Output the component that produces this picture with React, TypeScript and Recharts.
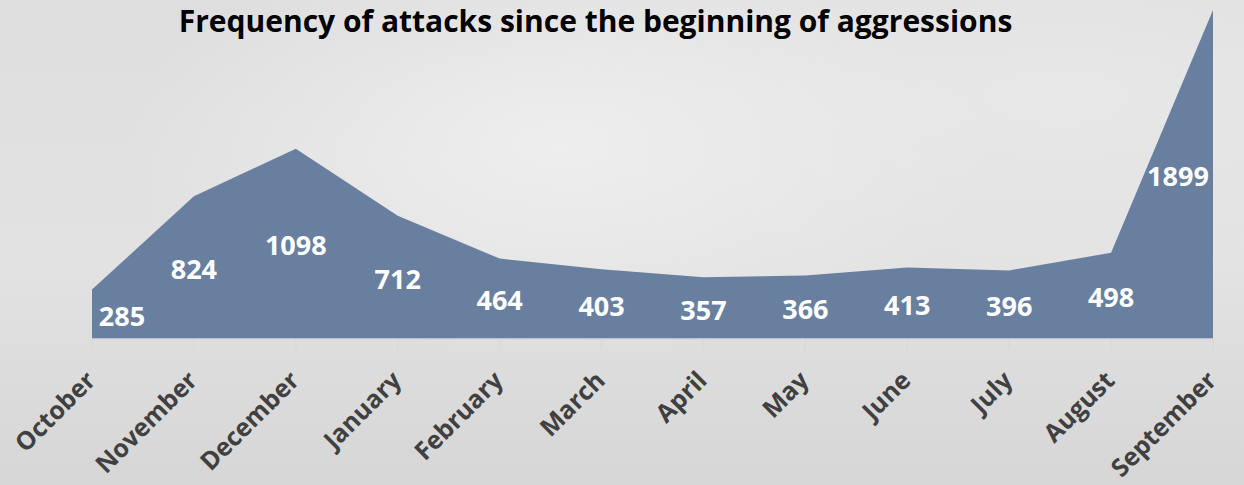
import { Area, AreaChart, LabelList, XAxis, YAxis } from 'recharts'

const months = ['October', 'November', 'December', 'January', 'February', 'March', 'April', 'May', 'June', 'July', 'August', 'September']
const attacks = [285, 824, 1098, 712, 464, 403, 357, 366, 413, 396, 498, 1899]

const data = months.map((m, i) => ({ month: m, attacks: attacks[i] }))

const W = 1244
const H = 485
const AXIS_H = 146
const BASE = H - AXIS_H
const font = '"Open Sans", sans-serif'

function MonthTick({ x, y, payload }: any) {
  const tx = x + 5
  const ty = y + 30
  return (
    <text
      x={tx}
      y={ty}
      transform={`rotate(-45, ${tx}, ${ty})`}
      textAnchor="end"
      fill="#404040"
      fontFamily={font}
      fontWeight={700}
      fontSize={25}
    >
      {payload.value}
    </text>
  )
}

function ValueLabel({ x, y, value, index }: any) {
  let lx = x
  if (index === 0) lx = x + 30
  if (index === attacks.length - 1) lx = x - 35
  const ly = (y + BASE) / 2 + 2
  return (
    <text
      x={lx}
      y={ly}
      dy="0.35em"
      textAnchor="middle"
      fill="#ffffff"
      fontFamily={font}
      fontWeight={700}
      fontSize={27}
    >
      {value}
    </text>
  )
}

export default function App() {
  return (
    <div
      style={{
        position: 'absolute',
        left: 0,
        top: 0,
        width: W,
        height: H,
        background:
          'radial-gradient(ellipse at 45% 30%, #eeeeee 0%, rgba(238,238,238,0) 45%), radial-gradient(ellipse at 85% 20%, #e8e8e8 0%, rgba(232,232,232,0) 40%), linear-gradient(180deg, #dedede 0%, #e2e2e2 55%, #d6d6d6 100%)',
      }}
    >
      <div
        style={{
          position: 'absolute',
          left: 0,
          top: 0,
          width: 1191,
          textAlign: 'center',
          fontFamily: font,
          fontWeight: 700,
          fontSize: 30,
          color: '#000',
          lineHeight: '41px',
        }}
      >
        Frequency of attacks since the beginning of aggressions
      </div>
      <AreaChart width={W} height={H} data={data} margin={{ top: 10, right: 31, bottom: 0, left: 92 }}>
        <YAxis hide domain={[0, 1899]} />
        <XAxis
          dataKey="month"
          height={AXIS_H}
          interval={0}
          axisLine={{ stroke: '#d9d9d9', strokeWidth: 1.5 }}
          tickLine={{ stroke: '#d9d9d9', strokeWidth: 1.5 }}
          tickSize={11}
          tick={<MonthTick />}
        />
        <Area
          type="linear"
          dataKey="attacks"
          stroke="none"
          fill="#687f9f"
          fillOpacity={1}
          isAnimationActive={false}
        >
          <LabelList dataKey="attacks" content={<ValueLabel />} />
        </Area>
      </AreaChart>
    </div>
  )
}
